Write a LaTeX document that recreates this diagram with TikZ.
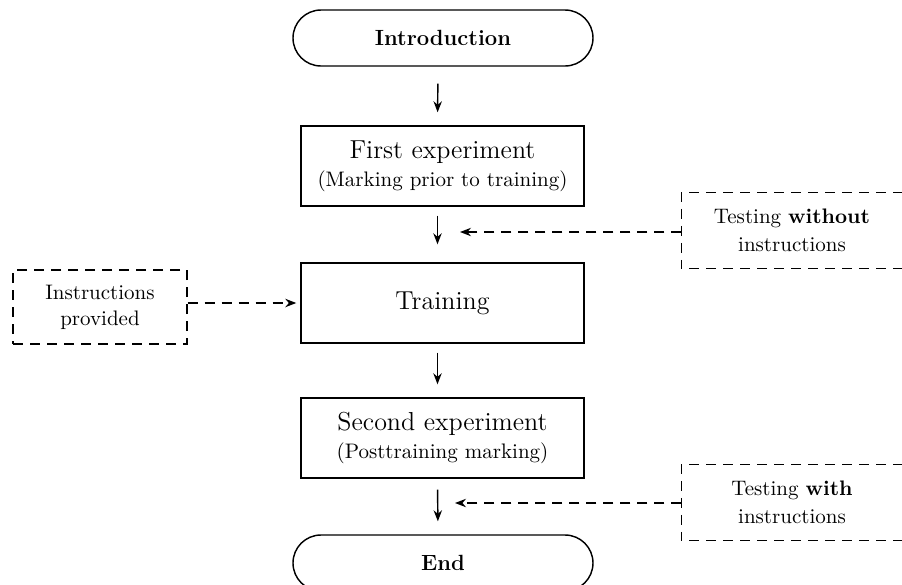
\documentclass[tikz,border=0pt]{standalone}
\usetikzlibrary{arrows.meta}
\begin{document}
\begin{tikzpicture}[x=0.5pt,y=-0.5pt, line width=0.72pt,
  term/.style={draw, rounded corners=14pt, minimum width=150pt, minimum height=28pt, inner sep=0pt, font=\fontsize{11}{12}\selectfont\bfseries},
  mainbox/.style={draw, minimum width=141.5pt, minimum height=40pt, align=center, inner sep=0pt},
  sidebox/.style={minimum width=110pt, minimum height=37.5pt, align=center, inner sep=0pt, font=\fontsize{10.5}{14}\selectfont},
  leftbox/.style={draw, dash pattern=on 5pt off 3.5pt, minimum width=87pt, minimum height=37pt, align=center, inner sep=0pt, font=\fontsize{10.5}{13}\selectfont},
  dashline/.style={dash pattern=on 5pt off 3.5pt},
  arr/.style={-{Stealth[length=5.5pt,width=4.2pt]}},
  darr/.style={arr, dash pattern=on 5pt off 3.5pt},
  big/.style={font=\fontsize{13}{15}\selectfont}]
\useasboundingbox (0,0) rectangle (902,585);

\node[term] (intro) at (443,38) {Introduction};
\node[mainbox] (fe) at (442.5,166) {{\fontsize{13}{15}\selectfont First experiment}\\[2pt]{\fontsize{10.5}{12}\selectfont (Marking prior to training)}};
\node[mainbox, big] (tr) at (442.5,303) {Training};
\node[mainbox] (se) at (442.5,438) {{\fontsize{13}{15}\selectfont Second experiment}\\[2pt]{\fontsize{10.5}{12}\selectfont (Posttraining marking)}};
\node[term] (end) at (443,563) {End};

\node[leftbox] (lb) at (100,307) {Instructions\\provided};

\node[sidebox] (t1) at (792,230.5) {Testing \textbf{without}\\instructions};
\draw[dashline] (t1.north east) -| (t1.south west) -- (t1.south east);
\node[sidebox] (t2) at (792,502.5) {Testing \textbf{with}\\instructions};
\draw[dashline] (t2.north east) -| (t2.south west) -- (t2.south east);

\coordinate (a1) at (460,232);
\coordinate (a2) at (455,503);

\draw[arr, shorten <=8.5pt, shorten >=6.5pt] ([xshift=-2.5pt]intro.south) -- ([xshift=-2.5pt]fe.north);
\draw[arr, shorten <=4.5pt, shorten >=9pt] ([xshift=-2.5pt]fe.south) -- ([xshift=-2.5pt]tr.north);
\draw[arr, shorten <=4.5pt, shorten >=6.5pt] ([xshift=-2.5pt]tr.south) -- ([xshift=-2.5pt]se.north);
\draw[arr, shorten <=5.5pt, shorten >=6.5pt] ([xshift=-2.5pt]se.south) -- ([xshift=-2.5pt]end.north);

\draw[darr, shorten >=2pt] (tr.west -| lb.east) -- (tr.west);
\draw[darr] (t1.west |- a1) -- (a1);
\draw[darr] (t2.west |- a2) -- (a2);
\end{tikzpicture}
\end{document}
